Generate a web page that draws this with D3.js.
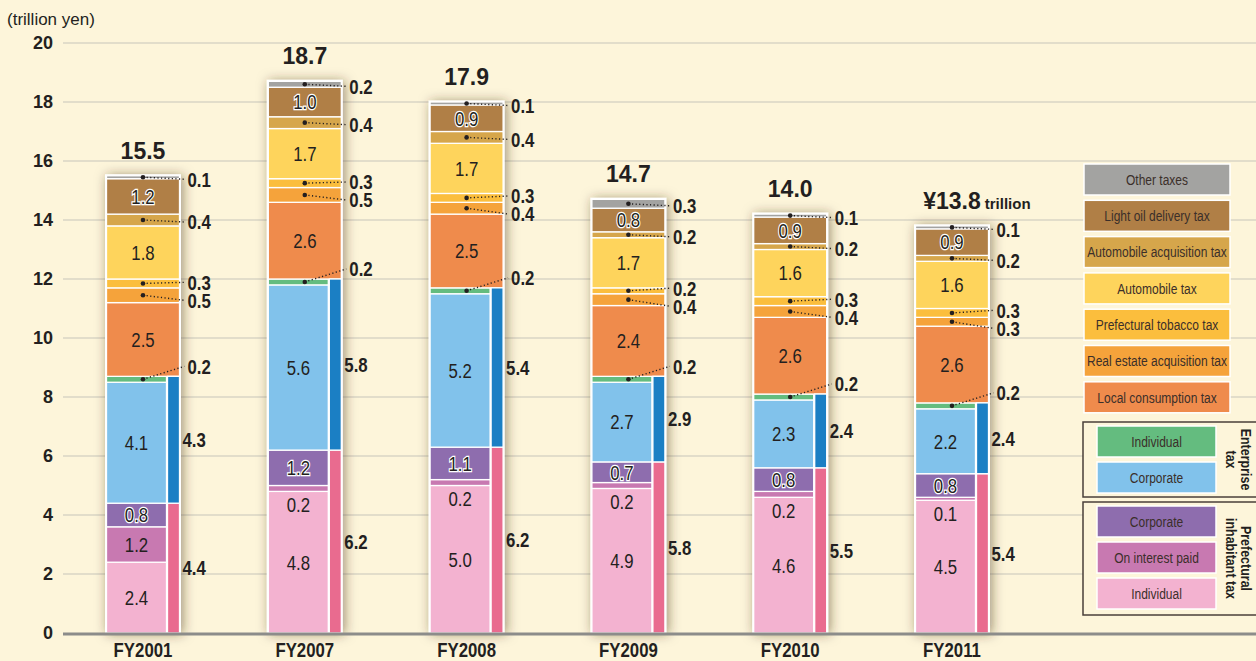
<!DOCTYPE html>
<html>
<head>
<meta charset="utf-8">
<script src="https://cdn.jsdelivr.net/npm/d3@7"></script>
<style>
  html, body { margin: 0; padding: 0; background: #fdf5da; }
  svg { display: block; font-family: "Liberation Sans", Arial, sans-serif; }
</style>
</head>
<body>
<svg id="chart" width="1256" height="661"></svg>
<script>
// values in trillion yen
var years = ["FY2001", "FY2007", "FY2008", "FY2009", "FY2010", "FY2011"];
var prefIndividual   = [2.4, 4.8, 5.0, 4.9, 4.6, 4.5];
var prefInterest     = [1.2, 0.2, 0.2, 0.2, 0.2, 0.1];
var prefCorporate    = [0.8, 1.2, 1.1, 0.7, 0.8, 0.8];
var entCorporate     = [4.1, 5.6, 5.2, 2.7, 2.3, 2.2];
var entIndividual    = [0.2, 0.2, 0.2, 0.2, 0.2, 0.2];
var localConsumption = [2.5, 2.6, 2.5, 2.4, 2.6, 2.6];
var realEstate       = [0.5, 0.5, 0.4, 0.4, 0.4, 0.3];
var tobacco          = [0.3, 0.3, 0.3, 0.2, 0.3, 0.3];
var automobile       = [1.8, 1.7, 1.7, 1.7, 1.6, 1.6];
var autoAcquisition  = [0.4, 0.4, 0.4, 0.2, 0.2, 0.2];
var lightOil         = [1.2, 1.0, 0.9, 0.8, 0.9, 0.9];
var otherTaxes       = [0.1, 0.2, 0.1, 0.3, 0.1, 0.1];
var prefTotal        = [4.4, 6.2, 6.2, 5.8, 5.5, 5.4];
var entTotal         = [4.3, 5.8, 5.4, 2.9, 2.4, 2.4];
var totalLabels      = ["15.5", "18.7", "17.9", "14.7", "14.0", "13.8"];
var yTicks = [0, 2, 4, 6, 8, 10, 12, 14, 16, 18, 20];

var keys = ["prefIndividual", "prefInterest", "prefCorporate", "entCorporate", "entIndividual",
    "localConsumption", "realEstate", "tobacco", "automobile", "autoAcquisition", "lightOil", "otherTaxes"];
var series = {
    prefIndividual: prefIndividual, prefInterest: prefInterest, prefCorporate: prefCorporate,
    entCorporate: entCorporate, entIndividual: entIndividual, localConsumption: localConsumption,
    realEstate: realEstate, tobacco: tobacco, automobile: automobile,
    autoAcquisition: autoAcquisition, lightOil: lightOil, otherTaxes: otherTaxes
};
var colors = {
    otherTaxes: "#a3a3a1", lightOil: "#b07f46", autoAcquisition: "#d6a64b", automobile: "#fed45c",
    tobacco: "#fbbe3d", realEstate: "#f5a33b", localConsumption: "#ef8b4c",
    entIndividual: "#64bc7f", entCorporate: "#81c2eb",
    prefCorporate: "#8e6dae", prefInterest: "#c879b1", prefIndividual: "#f3b2d0",
    entSide: "#1b7fc4", prefSide: "#e96b8f"
};
var lowerKeys = ["prefIndividual", "prefInterest", "prefCorporate", "entCorporate", "entIndividual"];
var haloKeys = ["lightOil", "prefCorporate"];

var svg = d3.select("#chart"),
    ink = "#231f20",
    barW = 73,
    mainW = 60;

// condensed text: no narrow face installed, so squeeze Liberation Sans
function ctext(parent, x, y, str, size, weight, anchor, sx) {
    return parent.append("text")
        .attr("transform", "translate(" + x + "," + y + ") scale(" + sx + ",1)")
        .attr("dy", "0.35em")
        .attr("text-anchor", anchor)
        .attr("font-size", size)
        .attr("font-weight", weight)
        .attr("fill", ink)
        .text(str);
}

var y = d3.scaleLinear().domain([0, 20]).range([633, 43]);
var x = d3.scalePoint().domain(years).range([143, 952]);

var rows = years.map(function(yr, i) {
    var r = { year: yr, i: i };
    keys.forEach(function(k) { r[k] = series[k][i]; });
    return r;
});
var stacked = d3.stack().keys(keys)(rows);

var defs = svg.append("defs");
var f = defs.append("filter").attr("id", "shadow")
    .attr("x", "-50%").attr("y", "-10%").attr("width", "200%").attr("height", "120%");
f.append("feDropShadow").attr("dx", 2).attr("dy", 1).attr("stdDeviation", 6)
    .attr("flood-color", "#3a2a10").attr("flood-opacity", 0.5);

// gridlines + axis
var grid = svg.append("g");
grid.selectAll("line").data(yTicks.filter(function(t) { return t > 0; })).join("line")
    .attr("x1", 63).attr("x2", 1256)
    .attr("y1", function(d) { return y(d); }).attr("y2", function(d) { return y(d); })
    .attr("stroke", "#d9d4c4").attr("stroke-width", 1.6);

var yAxis = svg.append("g").attr("transform", "translate(63,0)")
    .call(d3.axisLeft(y).tickValues(yTicks).tickSize(0).tickPadding(10));
yAxis.select(".domain").remove();
yAxis.selectAll("text")
    .attr("font-size", 18).attr("font-weight", "bold").attr("fill", ink)
    .style("font-family", "'Liberation Sans', Arial, sans-serif");

svg.append("text").attr("x", 7).attr("y", 25)
    .attr("font-size", 17).attr("fill", ink).text("(trillion yen)");

// bars
var bars = svg.append("g");
years.forEach(function(yr, i) {
    var cx = x(yr),
        left = cx - barW / 2,
        g = bars.append("g"),
        top = stacked[stacked.length - 1][i][1];

    g.append("rect")
        .attr("x", left - 1.5).attr("y", y(top) - 1.5)
        .attr("width", barW + 3).attr("height", y(0) - y(top) + 1.5)
        .attr("fill", "#fff").attr("filter", "url(#shadow)");

    stacked.forEach(function(s) {
        var d = s[i], k = s.key,
            w = lowerKeys.indexOf(k) >= 0 ? mainW : barW;
        g.append("rect")
            .attr("x", left).attr("y", y(d[1]))
            .attr("width", w).attr("height", y(d[0]) - y(d[1]))
            .attr("fill", colors[k]).attr("stroke", "#fff").attr("stroke-width", 1.3);
    });

    // side bars: prefectural inhabitant tax and enterprise tax totals
    var p1 = stacked[2][i][1], e1 = stacked[4][i][1];
    var sides = [
        { y0: 0, y1: p1, c: colors.prefSide, v: prefTotal[i] },
        { y0: p1, y1: e1, c: colors.entSide, v: entTotal[i] }
    ];
    sides.forEach(function(s) {
        g.append("rect")
            .attr("x", left + mainW + 1).attr("y", y(s.y1))
            .attr("width", barW - mainW - 1).attr("height", y(s.y0) - y(s.y1))
            .attr("fill", s.c).attr("stroke", "#fff").attr("stroke-width", 1.3);
        ctext(g, left + barW + 3, (y(s.y0) + y(s.y1)) / 2, s.v.toFixed(1), 21, "bold", "start", 0.8);
    });

    // inside labels and leader labels
    var leaders = [];
    stacked.forEach(function(s) {
        var d = s[i], k = s.key, v = series[k][i],
            lower = lowerKeys.indexOf(k) >= 0,
            lx = lower ? left + mainW / 2 : cx,
            cy = (y(d[0]) + y(d[1])) / 2;
        if (k === "prefInterest" && v < 0.5) {
            ctext(g, lx, y(d[0]) + 13, v.toFixed(1), 21, "normal", "middle", 0.8);
            return;
        }
        if (v >= 0.7 && k !== "entIndividual") {
            var t = ctext(g, lx, cy, v.toFixed(1), 21, "normal", "middle", 0.8);
            if (haloKeys.indexOf(k) >= 0) {
                t.attr("stroke", "#fff").attr("stroke-width", 2.5).attr("paint-order", "stroke");
            }
            return;
        }
        leaders.push({ v: v, dotY: cy, ly: k === "entIndividual" ? cy - 13 : cy + 2 });
    });

    // push overlapping leader labels apart
    leaders.sort(function(a, b) { return a.ly - b.ly; });
    for (var it = 0; it < 20; it++) {
        for (var j = 1; j < leaders.length; j++) {
            var gap = leaders[j].ly - leaders[j - 1].ly;
            if (gap < 18) {
                var m = (18 - gap) / 2;
                leaders[j - 1].ly -= m;
                leaders[j].ly += m;
            }
        }
    }
    leaders.forEach(function(l) {
        g.append("line")
            .attr("x1", cx).attr("y1", l.dotY)
            .attr("x2", left + barW + 5).attr("y2", l.ly)
            .attr("stroke", ink).attr("stroke-width", 1.4)
            .attr("stroke-dasharray", "1.2,2.4");
        g.append("circle").attr("cx", cx).attr("cy", l.dotY).attr("r", 2.3).attr("fill", ink);
        ctext(g, left + barW + 8, l.ly, l.v.toFixed(1), 21, "bold", "start", 0.8);
    });

    // total on top
    var last = i === years.length - 1;
    var tt = g.append("text")
        .attr("x", cx).attr("y", y(top) - 17)
        .attr("text-anchor", "middle").attr("font-size", 23).attr("font-weight", "bold").attr("fill", ink)
        .text(last ? "\u00a5" + totalLabels[i] : totalLabels[i]);
    if (last) {
        var half = tt.node().getComputedTextLength() / 2;
        g.append("text")
            .attr("x", cx + half + 4).attr("y", y(top) - 17)
            .attr("font-size", 15).attr("font-weight", "bold").attr("fill", ink)
            .text("trillion");
    }
});

// x axis
svg.append("line").attr("x1", 63).attr("x2", 1256).attr("y1", y(0) + 1).attr("y2", y(0) + 1)
    .attr("stroke", "#8c8c8a").attr("stroke-width", 3);
var xl = svg.append("g");
years.forEach(function(d) {
    ctext(xl, x(d), 650, d, 20, "bold", "middle", 0.84);
});

// legend
var legendItems = [
    ["otherTaxes", "Other taxes"], ["lightOil", "Light oil delivery tax"],
    ["autoAcquisition", "Automobile acquisition tax"], ["automobile", "Automobile tax"],
    ["tobacco", "Prefectural tobacco tax"], ["realEstate", "Real estate acquisition tax"],
    ["localConsumption", "Local consumption tax"]
];
var lg = svg.append("g");
legendItems.forEach(function(d, i) {
    var ty = 164 + i * 36.3;
    lg.append("rect").attr("x", 1084).attr("y", ty).attr("width", 146).attr("height", 31)
        .attr("fill", colors[d[0]]).attr("stroke", "#fff").attr("stroke-width", 1.5);
    ctext(lg, 1157, ty + 15.5, d[1], 15, "normal", "middle", 0.8).attr("fill", "#3b2f2a");
});

var groups = [
    { top: 422, h: 75, title: ["Enterprise", "tax"],
      items: [["entIndividual", "Individual"], ["entCorporate", "Corporate"]] },
    { top: 502, h: 113, title: ["Prefectural", "inhabitant tax"],
      items: [["prefCorporate", "Corporate"], ["prefInterest", "On interest paid"], ["prefIndividual", "Individual"]] }
];
groups.forEach(function(gr) {
    lg.append("rect").attr("x", 1083).attr("y", gr.top).attr("width", 200).attr("height", gr.h)
        .attr("fill", "#fdf5da").attr("stroke", "#4a3f3a").attr("stroke-width", 1.5);
    gr.items.forEach(function(d, i) {
        var ty = gr.top + 4 + i * 36;
        lg.append("rect").attr("x", 1097).attr("y", ty).attr("width", 119).attr("height", 31)
            .attr("fill", colors[d[0]]).attr("stroke", "#fff").attr("stroke-width", 1.5);
        ctext(lg, 1156.5, ty + 15.5, d[1], 15, "normal", "middle", 0.8).attr("fill", "#3b2f2a");
    });
    var tx = lg.append("text")
        .attr("transform", "translate(1240," + (gr.top + gr.h / 2) + ") rotate(90) scale(0.86,1)")
        .attr("text-anchor", "middle").attr("font-size", 14.5).attr("font-weight", "bold").attr("fill", ink);
    gr.title.forEach(function(line, i) {
        tx.append("tspan").attr("x", 0).attr("dy", i === 0 ? "-0.05em" : "1.05em").text(line);
    });
});
</script>
</body>
</html>
